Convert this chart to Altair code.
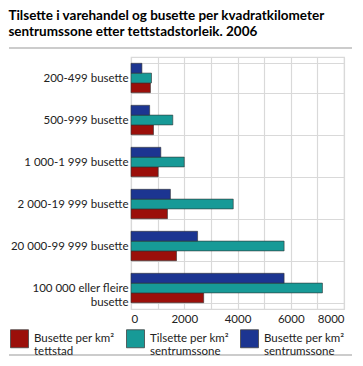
import altair as alt
import pandas as pd

categories = [
    "200-499 busette",
    "500-999 busette",
    "1 000-1 999 busette",
    "2 000-19 999 busette",
    "20 000-99 999 busette",
    "100 000 eller fleire\nbusette",
]
series = [
    "Busette per km²\ntettstad",
    "Tilsette per km²\nsentrumssone",
    "Busette per km²\nsentrumssone",
]
busette_tettstad = [730, 845, 1020, 1370, 1710, 2730]
tilsette_sentrum = [770, 1570, 2000, 3840, 5750, 7190]
busette_sentrum = [410, 700, 1120, 1480, 2500, 5750]
colors = ["#9b0f0a", "#179a97", "#1c3591"]
x_ticks = [0, 1000, 2000, 3000, 4000, 5000, 6000, 7000, 8000]

rows = []
for vals, s in zip([busette_tettstad, tilsette_sentrum, busette_sentrum], series):
    for c, v in zip(categories, vals):
        rows.append({"kategori": c, "serie": s, "verdi": v})
df = pd.DataFrame(rows)

FONT = "Lato"
FS = 11.5

bars = alt.Chart(df).mark_bar(stroke="#333333", strokeWidth=0.6).encode(
    y=alt.Y(
        "kategori:N",
        sort=categories,
        title=None,
        scale=alt.Scale(paddingInner=0.3, paddingOuter=0.15),
        axis=alt.Axis(
            tickBand="extent",
            grid=True,
            gridColor="#d9d9d9",
            gridWidth=1.2,
            ticks=False,
            domain=False,
            labelFontSize=FS,
            labelColor="#222222",
            labelPadding=3,
            labelFont=FONT,
            labelExpr="split(datum.label, '\\n')",
            labelLineHeight=14,
        ),
    ),
    yOffset=alt.YOffset("serie:N", sort=[series[2], series[1], series[0]]),
    x=alt.X(
        "verdi:Q",
        title=None,
        scale=alt.Scale(domain=[0, 8000], nice=False),
        axis=alt.Axis(
            values=x_ticks,
            format="d",
            labelExpr="datum.value % 2000 == 0 ? datum.label : ''",
            grid=True,
            gridColor="#d9d9d9",
            gridWidth=1.2,
            ticks=False,
            domain=False,
            labelFontSize=FS,
            labelColor="#222222",
            labelPadding=4,
            labelFont=FONT,
        ),
    ),
    color=alt.Color(
        "serie:N",
        sort=series,
        scale=alt.Scale(domain=series, range=colors),
        legend=alt.Legend(
            title=None,
            orient="none",
            legendX=-121,
            legendY={"expr": "height + 20"},
            direction="horizontal",
            columns=3,
            columnPadding=9,
            padding=0,
            symbolType="square",
            symbolSize=324,
            symbolStrokeColor="#444444",
            symbolStrokeWidth=0.8,
            labelFontSize=FS,
            labelFont=FONT,
            labelColor="#222222",
            labelExpr="split(datum.label, '\\n')",
            labelLimit=110,
            labelOffset=5,
        ),
    ),
)

top_line = alt.Chart(pd.DataFrame({"y": [-9]})).mark_rule(
    color="#999999", strokeWidth=1.2
).encode(
    y=alt.Y("y:Q", scale=None),
    x=alt.value(-122),
    x2=alt.value({"expr": "width + 8"}),
)
bottom_line = alt.Chart(pd.DataFrame({"y": [0]})).mark_rule(
    color="#999999", strokeWidth=1.2
).encode(
    y=alt.value({"expr": "height + 46"}),
    x=alt.value(-122),
    x2=alt.value({"expr": "width + 8"}),
)

chart = alt.layer(bars, top_line, bottom_line).properties(
    width=345,
    height=348,
    padding=0,
    autosize=alt.AutoSizeParams(type="fit", contains="padding"),
    title=alt.TitleParams(
        text=[
            "Tilsette i varehandel og busette per kvadratkilometer",
            "sentrumssone etter tettstadstorleik. 2006",
        ],
        anchor="start",
        frame="bounds",
        font=FONT,
        fontSize=13.5,
        fontWeight="bold",
        color="#000000",
        lineHeight=16,
        offset=9,
    ),
).configure_view(stroke="#d9d9d9", strokeWidth=1.2)

chart.save("out.html", embed_options={"renderer": "svg", "actions": False})
